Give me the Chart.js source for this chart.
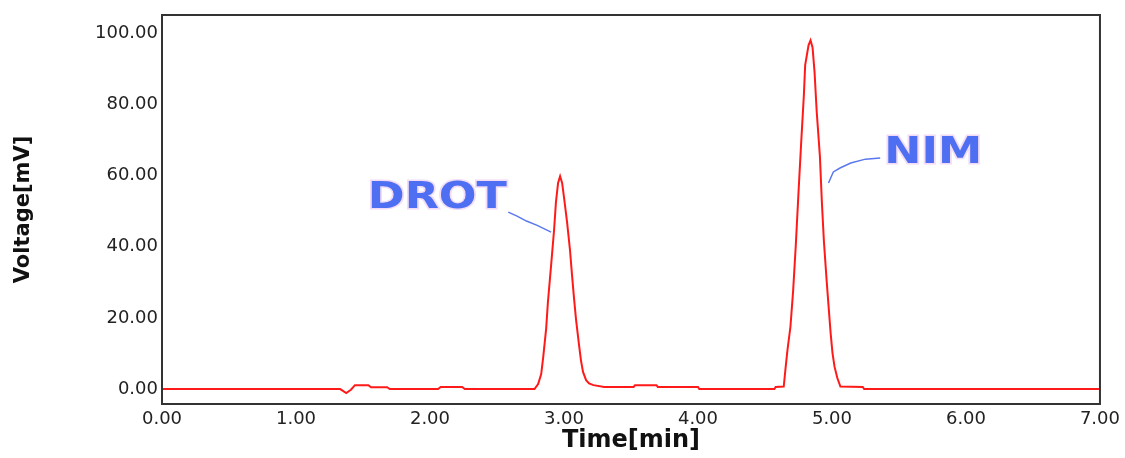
<!DOCTYPE html>
<html>
<head>
<meta charset="utf-8">
<title>Chromatogram</title>
<script src="https://cdn.jsdelivr.net/npm/chart.js@4/dist/chart.umd.min.js"></script>
<style>
  body { margin: 0; background: #fff; }
  #box { width: 1125px; height: 458px; }
</style>
</head>
<body>
<div id="box"><canvas id="grafico"></canvas></div>
<script>
// chromatogram trace (time in min, signal in mV)
const tempos = [0.00, 1.30, 1.33, 1.375, 1.41, 1.44, 1.54, 1.56, 1.68, 1.70, 2.06, 2.08, 2.24, 2.26,
  2.78, 2.807, 2.83, 2.845, 2.867, 2.88, 2.904, 2.926, 2.94, 2.956, 2.971, 2.986, 3.00, 3.023, 3.045,
  3.06, 3.075, 3.09, 3.112, 3.127, 3.142, 3.165, 3.187, 3.22, 3.30, 3.52, 3.53, 3.69, 3.70, 4.00, 4.01,
  4.57, 4.58, 4.64, 4.654, 4.668, 4.69, 4.71, 4.73, 4.75, 4.77, 4.79, 4.80, 4.825, 4.84, 4.855, 4.87,
  4.886, 4.91, 4.925, 4.94, 4.96, 4.975, 4.99, 5.004, 5.019, 5.04, 5.063, 5.23, 5.24, 7.00];
const voltagens = [0, 0, 0, -1.1, -0.2, 1.1, 1.1, 0.5, 0.5, 0, 0, 0.6, 0.6, 0,
  0, 1.4, 4.2, 9.0, 17.0, 24.4, 34.8, 44.7, 52.5, 57.9, 59.8, 57.9, 53.9, 46.9, 39.0,
  32.0, 25.5, 19.5, 12.5, 8.0, 4.8, 2.5, 1.6, 1.1, 0.6, 0.6, 1.1, 1.1, 0.6, 0.6, 0,
  0, 0.6, 0.7, 6.0, 11.0, 17.5, 27.5, 40.4, 55.1, 69.1, 82.4, 91.0, 96.6, 98.0, 96.0, 89.1,
  78.0, 65.3, 52.2, 41.4, 30.6, 23.1, 15.7, 10.1, 6.3, 3.1, 0.7, 0.6, 0, 0];

// axis ticks
const ticksX = [0, 1, 2, 3, 4, 5, 6, 7];
const ticksY = [0, 20, 40, 60, 80, 100];

// peak names and their leader lines
const nomesPicos = ['DROT', 'NIM'];
const tempoNomes = [2.055, 5.756];
const voltNomes = [53.7, 66.3];
const setaDrotT = [2.584, 2.65, 2.72, 2.80, 2.904];
const setaDrotV = [49.7, 48.6, 47.2, 46.0, 44.1];
const setaNimT = [4.974, 5.01, 5.06, 5.14, 5.25, 5.36];
const setaNimV = [57.9, 61.0, 62.1, 63.5, 64.6, 64.9];

function pares(xs, ys) {
    return xs.map((x, i) => ({ x: x, y: ys[i] }));
}

const extras = {
    id: 'extras',
    afterDatasetsDraw(chart) {
        const { ctx, chartArea, scales } = chart;
        ctx.save();
        // frame around the plot
        ctx.strokeStyle = '#333';
        ctx.lineWidth = 2;
        ctx.strokeRect(chartArea.left, chartArea.top, chartArea.right - chartArea.left, chartArea.bottom - chartArea.top);

        nomesPicos.forEach((nome, i) => {
            const x = scales.x.getPixelForValue(tempoNomes[i]);
            const y = scales.y.getPixelForValue(voltNomes[i]);
            ctx.save();
            ctx.translate(x, y);
            ctx.scale(1.2, 1);
            ctx.font = 'bold 37px "DejaVu Sans"';
            ctx.textAlign = 'center';
            ctx.textBaseline = 'middle';
            ctx.lineWidth = 3;
            ctx.strokeStyle = 'rgba(240,215,245,0.9)';
            ctx.strokeText(nome, 0, 0);
            ctx.fillStyle = '#4f6ff2';
            ctx.fillText(nome, 0, 0);
            ctx.restore();
        });
        ctx.restore();
    }
};

const ctx = document.getElementById('grafico').getContext('2d');
new Chart(ctx, {
    type: 'line',
    data: {
        datasets: [
            {
                data: pares(tempos, voltagens),
                borderColor: '#ff1a1a',
                borderWidth: 2,
                pointRadius: 0,
                tension: 0
            },
            {
                data: pares(setaDrotT, setaDrotV),
                borderColor: '#5a78ee',
                borderWidth: 1.5,
                pointRadius: 0
            },
            {
                data: pares(setaNimT, setaNimV),
                borderColor: '#5a78ee',
                borderWidth: 1.5,
                pointRadius: 0
            }
        ]
    },
    options: {
        responsive: true,
        maintainAspectRatio: false,
        animation: false,
        layout: { padding: { top: 15, right: 25, left: 0, bottom: 0 } },
        plugins: { legend: { display: false }, tooltip: { enabled: false } },
        scales: {
            x: {
                type: 'linear',
                min: 0,
                max: 7,
                grid: { display: false, drawTicks: false },
                border: { display: false },
                afterBuildTicks: (s) => { s.ticks = ticksX.map(v => ({ value: v })); },
                afterFit: (s) => { s.height = 54; },
                ticks: {
                    padding: 5,
                    color: '#222',
                    maxRotation: 0,
                    font: { family: '"DejaVu Sans"', size: 18 },
                    callback: (v) => v.toFixed(2)
                },
                title: {
                    display: true,
                    text: 'Time[min]',
                    color: '#111',
                    font: { family: '"DejaVu Sans"', size: 24, weight: 'bold' },
                    padding: { top: 0, bottom: 3 }
                }
            },
            y: {
                min: -4.2,
                max: 105.1,
                grid: { display: false, drawTicks: false },
                border: { display: false },
                afterBuildTicks: (s) => { s.ticks = ticksY.map(v => ({ value: v })); },
                afterFit: (s) => { s.width = 162; },
                ticks: {
                    padding: 4,
                    color: '#222',
                    font: { family: '"DejaVu Sans"', size: 18 },
                    callback: (v) => v.toFixed(2)
                },
                title: {
                    display: true,
                    text: 'Voltage[mV]',
                    color: '#111',
                    font: { family: '"DejaVu Sans"', size: 21, weight: 'bold' },
                    padding: { top: 11, bottom: 0 }
                }
            }
        }
    },
    plugins: [extras]
});
</script>
</body>
</html>
